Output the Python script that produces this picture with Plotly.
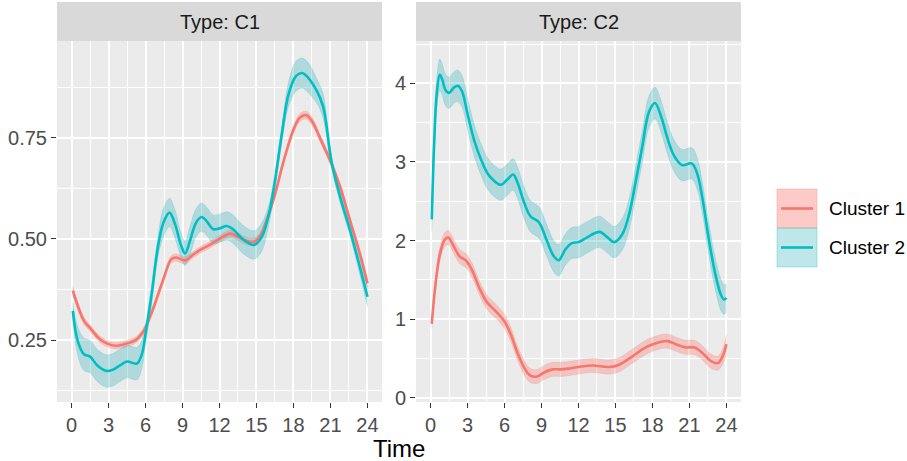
import plotly.graph_objects as go

# ---- data: smoothed hourly profiles with confidence bands ----
# Type C1, Cluster 1
c1_cl1_time = [0.1, 1.0, 1.5, 2.3, 3.0, 3.6, 4.5, 5.2, 5.7, 6.0, 6.6, 7.4, 8.1, 8.5, 9.2, 9.9,
               10.5, 11.2, 12.0, 12.9, 13.5, 14.2, 14.8, 15.3, 15.8, 16.5, 17.2, 18.0, 18.5,
               19.0, 19.5, 20.2, 21.0, 21.8, 22.6, 23.4, 24.0]
c1_cl1_value = [0.372, 0.298, 0.280, 0.252, 0.240, 0.236, 0.242, 0.250, 0.266, 0.281, 0.326,
                0.396, 0.450, 0.454, 0.447, 0.462, 0.474, 0.485, 0.500, 0.513, 0.505, 0.495,
                0.493, 0.507, 0.544, 0.610, 0.692, 0.770, 0.799, 0.806, 0.791, 0.746, 0.692,
                0.627, 0.544, 0.462, 0.390]
c1_cl1_band = [0.012, 0.009, 0.008, 0.008, 0.008, 0.008, 0.008, 0.008, 0.008, 0.008, 0.008,
               0.008, 0.009, 0.009, 0.009, 0.008, 0.008, 0.008, 0.008, 0.009, 0.009, 0.009,
               0.009, 0.009, 0.008, 0.008, 0.008, 0.009, 0.010, 0.010, 0.010, 0.009, 0.009,
               0.009, 0.009, 0.010, 0.012]

# Type C1, Cluster 2
c1_cl2_time = [0.1, 0.5, 1.0, 1.5, 2.1, 2.8, 3.3, 4.0, 4.5, 5.3, 5.7, 6.0, 6.5, 7.0, 7.45,
               7.95, 8.4, 8.85, 9.2, 9.6, 10.1, 10.55, 10.95, 11.5, 12.0, 12.6, 13.1, 13.9,
               14.8, 15.4, 16.0, 16.5, 17.05, 17.6, 18.2, 18.7, 19.2, 19.9, 20.4, 21.1, 21.8,
               22.6, 23.4, 24.0]
c1_cl2_value = [0.322, 0.248, 0.215, 0.209, 0.187, 0.174, 0.176, 0.189, 0.197, 0.192, 0.215,
                0.265, 0.364, 0.479, 0.540, 0.565, 0.536, 0.487, 0.464, 0.495, 0.540, 0.554,
                0.544, 0.524, 0.526, 0.532, 0.524, 0.499, 0.485, 0.503, 0.560, 0.643, 0.758,
                0.857, 0.902, 0.910, 0.898, 0.865, 0.828, 0.688, 0.602, 0.520, 0.429, 0.357]
c1_cl2_band = [0.020, 0.035, 0.040, 0.040, 0.040, 0.040, 0.040, 0.040, 0.040, 0.040, 0.035,
               0.025, 0.025, 0.025, 0.035, 0.035, 0.035, 0.030, 0.030, 0.035, 0.035, 0.035,
               0.035, 0.035, 0.035, 0.035, 0.035, 0.035, 0.035, 0.035, 0.025, 0.020, 0.020,
               0.030, 0.037, 0.037, 0.037, 0.030, 0.030, 0.015, 0.015, 0.015, 0.020, 0.025]

# Type C2, Cluster 1
c2_cl1_time = [0.1, 0.4, 0.75, 1.15, 1.45, 1.8, 2.35, 2.9, 3.4, 3.95, 4.6, 5.3, 6.0, 6.5,
               7.05, 7.6, 8.1, 8.65, 9.2, 9.9, 10.55, 11.2, 12.0, 13.1, 14.5, 15.3, 16.4,
               17.45, 18.4, 19.2, 19.9, 20.7, 21.4, 22.05, 22.7, 23.3, 23.7, 24.0]
c2_cl1_value = [0.94, 1.44, 1.82, 2.01, 2.04, 1.95, 1.80, 1.74, 1.61, 1.40, 1.21, 1.10, 0.97,
                0.81, 0.57, 0.38, 0.28, 0.27, 0.32, 0.36, 0.36, 0.37, 0.39, 0.41, 0.39, 0.42,
                0.53, 0.64, 0.70, 0.72, 0.68, 0.64, 0.64, 0.57, 0.47, 0.44, 0.53, 0.68]
c2_cl1_band = [0.07, 0.08, 0.09, 0.09, 0.09, 0.09, 0.09, 0.09, 0.09, 0.09, 0.09, 0.09, 0.09,
               0.09, 0.09, 0.09, 0.09, 0.09, 0.09, 0.09, 0.09, 0.09, 0.09, 0.09, 0.09, 0.09,
               0.09, 0.09, 0.09, 0.09, 0.09, 0.09, 0.09, 0.09, 0.09, 0.09, 0.10, 0.13]

# Type C2, Cluster 2
c2_cl2_time = [0.1, 0.3, 0.5, 0.75, 0.95, 1.2, 1.5, 1.85, 2.2, 2.55, 3.0, 3.55, 4.1, 4.6,
               5.15, 5.7, 6.25, 6.7, 7.05, 7.6, 8.1, 8.8, 9.45, 10.0, 10.4, 10.95, 11.5, 12.0,
               12.7, 13.7, 14.35, 14.9, 15.55, 16.1, 16.65, 17.2, 17.7, 18.2, 18.7, 19.2,
               19.75, 20.4, 21.2, 21.65, 22.05, 22.6, 23.1, 23.55, 23.8, 24.0]
c2_cl2_value = [2.27, 3.27, 3.86, 4.11, 4.05, 3.92, 3.88, 3.94, 3.97, 3.90, 3.61, 3.27, 3.03,
                2.86, 2.76, 2.71, 2.78, 2.84, 2.74, 2.48, 2.31, 2.23, 1.99, 1.80, 1.75, 1.89,
                1.97, 1.98, 2.04, 2.11, 2.04, 1.98, 2.08, 2.33, 2.76, 3.22, 3.63, 3.75, 3.58,
                3.31, 3.08, 2.96, 2.98, 2.84, 2.54, 1.99, 1.57, 1.31, 1.25, 1.27]
c2_cl2_band = [0.15, 0.18, 0.20, 0.20, 0.20, 0.20, 0.20, 0.20, 0.20, 0.20, 0.20, 0.20, 0.20,
               0.20, 0.20, 0.20, 0.20, 0.20, 0.20, 0.20, 0.20, 0.20, 0.20, 0.20, 0.20, 0.20,
               0.20, 0.20, 0.20, 0.20, 0.20, 0.20, 0.20, 0.20, 0.20, 0.20, 0.20, 0.20, 0.20,
               0.20, 0.20, 0.20, 0.20, 0.20, 0.20, 0.20, 0.20, 0.20, 0.19, 0.18]

facet_labels = ["Type: C1", "Type: C2"]
cluster_names = ["Cluster 1", "Cluster 2"]
time_ticks = [0, 3, 6, 9, 12, 15, 18, 21, 24]
c1_ticks = [0.25, 0.50, 0.75]
c2_ticks = [0, 1, 2, 3, 4]

# ---- styling ----
W, H = 907, 461
LINE_COLORS = ["#F8766D", "#00BFC4"]
BAND_RGB = [(248, 118, 109), (60, 180, 186)]
EDGE_RGB = [(248, 118, 109), (0, 191, 196)]
BAND_ALPHA = 0.33
FONT = "Liberation Sans, Arial, sans-serif"
TICK_SIZE = 20


def px_x(p):
    return p / W


def px_y(p):
    return (H - p) / H


def rgba(rgb, a):
    return "rgba(%d,%d,%d,%.3f)" % (rgb[0], rgb[1], rgb[2], a)


panels = [
    ("x", "y", [(c1_cl1_time, c1_cl1_value, c1_cl1_band), (c1_cl2_time, c1_cl2_value, c1_cl2_band)]),
    ("x2", "y2", [(c2_cl1_time, c2_cl1_value, c2_cl1_band), (c2_cl2_time, c2_cl2_value, c2_cl2_band)]),
]

fig = go.Figure()

for xa, ya, series in panels:
    # confidence ribbons first
    for k, (t, v, b) in enumerate(series):
        lo = [vi - bi for vi, bi in zip(v, b)]
        hi = [vi + bi for vi, bi in zip(v, b)]
        edge = dict(color=rgba(EDGE_RGB[k], 0.3), width=0.6, shape="spline")
        fig.add_trace(go.Scatter(x=t, y=lo, mode="lines", line=edge, xaxis=xa, yaxis=ya,
                                 showlegend=False, hoverinfo="skip"))
        fig.add_trace(go.Scatter(x=t, y=hi, mode="lines", line=edge, fill="tonexty",
                                 fillcolor=rgba(BAND_RGB[k], BAND_ALPHA), xaxis=xa, yaxis=ya,
                                 showlegend=False, hoverinfo="skip"))
    # mean curves on top
    for k, (t, v, b) in enumerate(series):
        fig.add_trace(go.Scatter(x=t, y=v, mode="lines", name=cluster_names[k],
                                 line=dict(color=LINE_COLORS[k], width=2.6, shape="spline"),
                                 xaxis=xa, yaxis=ya, showlegend=False))

plot_top, plot_bottom = 41, 402
panel_x = [(57, 382), (416, 741)]

common_x = dict(range=[-1.18, 25.18], tickmode="array", tickvals=time_ticks,
                ticktext=[str(v) for v in time_ticks], automargin=False,
                showgrid=True, gridcolor="white", gridwidth=2, zeroline=False, showline=False,
                ticks="outside", ticklen=5, tickwidth=1.1, tickcolor="#333333",
                tickfont=dict(family=FONT, size=TICK_SIZE, color="#4D4D4D"),
                minor=dict(tickmode="linear", tick0=0, dtick=1.5, showgrid=True,
                           gridcolor="white", gridwidth=1, ticklen=0))
common_y = dict(showgrid=True, gridcolor="white", gridwidth=2, zeroline=False, showline=False,
                ticks="outside", ticklen=5, tickwidth=1.1, tickcolor="#333333", automargin=False,
                tickfont=dict(family=FONT, size=TICK_SIZE, color="#4D4D4D"),
                domain=[px_y(plot_bottom), px_y(plot_top)])

fig.update_layout(
    width=W, height=H, autosize=False,
    margin=dict(l=0, r=0, t=0, b=0, pad=0),
    paper_bgcolor="white", plot_bgcolor="#EBEBEB",
    showlegend=False,
    xaxis=dict(common_x, domain=[px_x(panel_x[0][0]), px_x(panel_x[0][1])], anchor="y"),
    xaxis2=dict(common_x, domain=[px_x(panel_x[1][0]), px_x(panel_x[1][1])], anchor="y2"),
    yaxis=dict(common_y, range=[0.097, 0.989], anchor="x", tickmode="array",
               tickvals=c1_ticks, ticktext=["%.2f" % v for v in c1_ticks],
               minor=dict(tickmode="linear", tick0=0, dtick=0.125, showgrid=True,
                          gridcolor="white", gridwidth=1, ticklen=0)),
    yaxis2=dict(common_y, range=[-0.055, 4.54], anchor="x2", tickmode="array",
                tickvals=c2_ticks, ticktext=[str(v) for v in c2_ticks],
                minor=dict(tickmode="linear", tick0=0, dtick=0.5, showgrid=True,
                           gridcolor="white", gridwidth=1, ticklen=0)),
)

shapes = []
annotations = []

# facet strips
for (x0, x1), label in zip(panel_x, facet_labels):
    shapes.append(dict(type="rect", xref="paper", yref="paper", x0=px_x(x0), x1=px_x(x1),
                       y0=px_y(plot_top), y1=px_y(2), fillcolor="#D9D9D9", line=dict(width=0),
                       layer="below"))
    annotations.append(dict(text=label, xref="paper", yref="paper", x=px_x((x0 + x1) / 2),
                            y=px_y(22), xanchor="center", yanchor="middle", showarrow=False,
                            font=dict(family=FONT, size=TICK_SIZE, color="#1A1A1A")))

# shared x-axis title
annotations.append(dict(text="Time", xref="paper", yref="paper", x=px_x(399), y=px_y(448),
                        xanchor="center", yanchor="middle", showarrow=False,
                        font=dict(family=FONT, size=24, color="black")))

# legend keys: ribbon swatch with the line across it
key_x0, key_x1 = 777, 817
key_rows = [(189, 228), (228, 267)]
key_alpha = [0.38, 0.33]
for k, (top, bot) in enumerate(key_rows):
    shapes.append(dict(type="rect", xref="paper", yref="paper", x0=px_x(key_x0), x1=px_x(key_x1),
                       y0=px_y(bot), y1=px_y(top), fillcolor=rgba(BAND_RGB[k], key_alpha[k]),
                       line=dict(color=rgba(EDGE_RGB[k], 0.3), width=1)))
    mid = (top + bot) / 2
    shapes.append(dict(type="line", xref="paper", yref="paper", x0=px_x(781), x1=px_x(813),
                       y0=px_y(mid), y1=px_y(mid), line=dict(color=LINE_COLORS[k], width=2.6)))
    annotations.append(dict(text=cluster_names[k], xref="paper", yref="paper", x=px_x(827),
                            y=px_y(mid), xanchor="left", yanchor="middle", showarrow=False,
                            font=dict(family=FONT, size=19, color="black")))

fig.update_layout(shapes=shapes, annotations=annotations)

# keep the page exactly the size of the figure
page_css = ("document.documentElement.style.margin='0';"
            "document.documentElement.style.overflow='hidden';"
            "document.documentElement.style.height='%dpx';"
            "document.body.style.margin='0';"
            "document.body.style.overflow='hidden';"
            "document.body.style.height='%dpx';" % (H, H))

fig.write_html("out.html", post_script=page_css)
